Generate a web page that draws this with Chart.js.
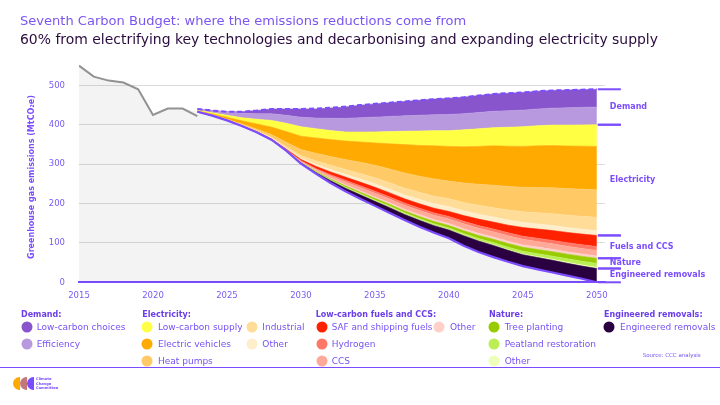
<!DOCTYPE html>
<html><head><meta charset="utf-8">
<script src="https://cdn.jsdelivr.net/npm/chart.js@4"></script>
<style>
body{margin:0;width:720px;height:405px;overflow:hidden;background:#fff;font-family:'DejaVu Sans',sans-serif;position:relative}
#c{position:absolute;left:0;top:0}
.t{position:absolute;white-space:nowrap;line-height:1;transform:translateY(-50%);color:#7652f2;font-size:9px}
.h{font-weight:bold;font-size:8px;color:#6a3ee8}
.dot{position:absolute;width:11px;height:11px;border-radius:50%;transform:translate(-50%,-50%)}
.title{position:absolute;left:20px;white-space:nowrap;line-height:1;transform:translateY(-50%)}
.logo{position:absolute;width:7px;height:13px;border-radius:7px 0 0 7px;top:377px}
.lt{position:absolute;left:36px;font-size:3.6px;font-weight:bold;color:#7b4dff;line-height:4.6px;top:377px}
</style></head><body>
<canvas id="c" width="720" height="405"></canvas>
<div class="title" style="top:21px;color:#7b55f0;font-size:13.05px">Seventh Carbon Budget: where the emissions reductions come from</div>
<div class="title" style="top:39.5px;color:#2a0b3e;font-size:13.95px">60% from electrifying key technologies and decarbonising and expanding electricity supply</div>

<div class="t h" style="left:21px;top:314.5px">Demand:</div>
<div class="dot" style="left:26.7px;top:327.3px;background:#8855cc"></div><div class="t" style="left:36.7px;top:327.3px">Low-carbon choices</div>
<div class="dot" style="left:26.7px;top:344px;background:#b899e0"></div><div class="t" style="left:36.7px;top:344px">Efficiency</div>

<div class="t h" style="left:142.3px;top:314.5px">Electricity:</div>
<div class="dot" style="left:147px;top:327.3px;background:#ffff44"></div><div class="t" style="left:158px;top:327.3px">Low-carbon supply</div>
<div class="dot" style="left:147px;top:344px;background:#ffaa00"></div><div class="t" style="left:158px;top:344px">Electric vehicles</div>
<div class="dot" style="left:147px;top:360.7px;background:#ffc966"></div><div class="t" style="left:158px;top:360.7px">Heat pumps</div>
<div class="dot" style="left:252.3px;top:327.3px;background:#ffdd99"></div><div class="t" style="left:262.3px;top:327.3px">Industrial</div>
<div class="dot" style="left:252.3px;top:344px;background:#ffeecc"></div><div class="t" style="left:262.3px;top:344px">Other</div>

<div class="t h" style="left:315.7px;top:314.5px">Low-carbon fuels and CCS:</div>
<div class="dot" style="left:321.7px;top:327.3px;background:#ff2200"></div><div class="t" style="left:331.7px;top:327.3px;font-size:8.85px">SAF and shipping fuels</div>
<div class="dot" style="left:321.7px;top:344px;background:#ff7766"></div><div class="t" style="left:331.7px;top:344px">Hydrogen</div>
<div class="dot" style="left:321.7px;top:360.7px;background:#ffaa99"></div><div class="t" style="left:331.7px;top:360.7px">CCS</div>
<div class="dot" style="left:439.3px;top:326.7px;background:#ffd0c8"></div><div class="t" style="left:450px;top:326.7px">Other</div>

<div class="t h" style="left:489px;top:314.5px">Nature:</div>
<div class="dot" style="left:494.3px;top:327.3px;background:#99cc00"></div><div class="t" style="left:504.7px;top:327.3px">Tree planting</div>
<div class="dot" style="left:494.3px;top:344px;background:#bbee55"></div><div class="t" style="left:504.7px;top:344px">Peatland restoration</div>
<div class="dot" style="left:494.3px;top:360.7px;background:#eeffbb"></div><div class="t" style="left:504.7px;top:360.7px">Other</div>

<div class="t h" style="left:604px;top:314.5px">Engineered removals:</div>
<div class="dot" style="left:609.3px;top:327.3px;background:#2a0040"></div><div class="t" style="left:620px;top:327.3px">Engineered removals</div>

<div class="t" style="left:642.7px;top:355.7px;font-size:5.5px">Source: CCC analysis</div>
<div style="position:absolute;left:0;top:367px;width:720px;height:1px;background:#7b4dff"></div>

<div class="logo" style="left:13px;background:#ffaa00"></div>
<div class="logo" style="left:20px;background:#c47878"></div>
<div class="logo" style="left:27px;background:#7b4dff"></div>
<div class="lt">Climate<br>Change<br>Committee</div>

<script>
// ---- Data ----
const histYears  = [2015, 2016, 2017, 2018, 2019, 2020, 2021, 2022, 2023];
const histValues = [550, 522, 512, 507, 490, 425, 441, 441, 422];

const years = [2023,2024,2025,2026,2027,2028,2029,2030,2031,2032,2033,2034,2035,2036,2037,2038,2039,2040,2041,2042,2043,2044,2045,2046,2047,2048,2049,2050];

const pathway  = [433,423,411,397,381,362,334,301,276,252,231,212,194,176,158,141,126,112,93,77,64,52,41,33,25,17,9,0];
const baseline = [440,436,433,433,436,440,440,440,441,443,446,450,453,456,459,462,465,467,470,474,478,480,482,485,487,488,489,490];

const engineeredRemovals = [0,0,0,0,0,0,0,2,3,6,8,10,11.5,13.4,14.3,16.6,17.8,21,25.3,28,29.7,29.1,29,29.9,30.8,31.2,32.1,35];
const natureOther        = [0,0,0,0,0,0,0,0.2,0.3,0.5,0.7,0.8,0.8,0.9,0.9,1,1,1,1.2,1.4,1.6,1.8,2,2.2,2.4,2.6,2.8,3];
const peatland           = [0,0,0,0,0,0,0,0.5,1,1.6,2.3,2.6,2.9,3.1,3.3,3.5,3.8,4,4.5,5,5.5,6.2,7,7.6,8.2,8.8,9.4,10];
const treePlanting       = [0,0,0,0,0,0,0.2,0.8,1.5,2.2,3,3.5,4,4.4,4.8,5.2,5.6,6,6.8,7.6,8.4,9.2,10,10.6,11.2,11.8,12.4,13];
const fuelsOther         = [0,0,0,0,0,0,0.3,0.6,1.2,2,2.8,3.2,3.6,4,4.2,4.5,4.8,5,5.2,5.4,5.6,5.8,6,6,6,6,6,6];
const ccs                = [0,0,0.2,0.3,0.5,0.5,1,2.2,3.8,5.5,7,8.5,9.3,9.5,10,10.5,11,12,12.5,13,13.5,14,14,14,14,14,14,14];
const hydrogen           = [0,0,0,0,0.2,0.3,0.5,1.2,2.2,3.4,4.3,4.8,5.2,5.2,5.5,5.7,6,6,6.3,6.6,7,7.5,8,8.4,8.8,9.2,9.6,10];
const safShipping        = [0,0,0.3,0.5,0.8,1.2,2.2,3.5,5.5,7,8,9,10,10.5,11,11.5,12,13,14.5,16.5,17.5,19.5,22,23.5,25,26,27,28];
const electricityOther   = [0,0.5,0.5,0.7,1,1.5,2.5,3.5,5,6,7,8,9,9.5,10,11,11.5,12,12.2,12.5,12.7,12.9,13,12.8,12.6,12.4,12.2,12];
const industrial         = [0.5,0.5,0.5,1,1.5,2.5,4,6.5,9,11,12.5,14,15,16,17,18,19,20,21,22.5,24,25.5,27,28.5,30,31.5,33,34];
const heatPumps          = [0.5,1,1.5,2.5,4,7,11,15,19,22,25,28.5,32,35,38.5,41,44,45,49.5,53.5,57,60,62,64,66,67.5,69,70];
const electricVehicles   = [1.5,2.5,5,8,13,19,27,34,39,43,47,51.5,56.5,64,72,78,84,88,92,96,100,102,104,106,107,108,109,110];
const lowCarbonSupply    = [1.5,3,5,8,12,17,21,24,23.5,23,23,25,28,31,34,36.5,38.5,40,43,44.5,46,48,50,51,52,53,54,55];
const efficiency         = [3,5,8,11,14,17,20.3,24,27,31,34.5,36.5,37.5,38.5,39,40,40.5,41,41,41.5,41.5,42,42,42.5,43,44,44.5,45];
const lowCarbonChoices   = [0,0.5,1,4,8,12,16,21,23,26,29,31.5,33.5,35,36.5,38,39.5,41,42,43,44,44.5,45,45,45,45,45,45];

const xTicks = [2015, 2020, 2025, 2030, 2035, 2040, 2045, 2050];

// ---- Build ----
const pts = (xs, vs) => xs.map((x, i) => ({x, y: vs[i]}));
const layers = [
  ['er', engineeredRemovals, '#2a0040'],
  ['natOther', natureOther, '#eeffbb'],
  ['peat', peatland, '#bbee55'],
  ['tree', treePlanting, '#99cc00'],
  ['fuelOther', fuelsOther, '#ffd0c8'],
  ['ccs', ccs, '#ffaa99'],
  ['h2', hydrogen, '#ff7766'],
  ['saf', safShipping, '#ff2200'],
  ['elecOther', electricityOther, '#ffeecc'],
  ['ind', industrial, '#ffdd99'],
  ['hp', heatPumps, '#ffc966'],
  ['ev', electricVehicles, '#ffaa00'],
  ['lcs', lowCarbonSupply, '#ffff44'],
  ['eff', efficiency, '#b899e0'],
  ['lcc', lowCarbonChoices, '#8855cc']
];
const PURPLE = '#7b4dff';
// one continuous grey background: history up to 2022, then the pathway
const shadeX = histYears.slice(0, -1).concat(years);
const shadeY = histValues.slice(0, -1).concat(pathway);
const datasets = [
  {key:'base', data: pts(years, pathway), stack:'p', borderColor: PURPLE, borderWidth: 2.2, fill:false},
];
layers.forEach(([k, arr, col]) => datasets.push({key:k, data: pts(years, arr), stack:'p',
  borderColor: col, borderWidth: 0.6, backgroundColor: col, fill: '-1'}));
datasets.push({key:'shade', data: pts(shadeX, shadeY), stack:'s', borderWidth:0, borderColor:'rgba(0,0,0,0)',
  backgroundColor: 'rgba(0,0,0,0.047)', fill:'origin', order:1});
datasets.push({key:'hist', data: pts(histYears, histValues), stack:'h', borderColor:'#929292', borderWidth:2,
  fill:false, order:-1});
datasets.push({key:'baseline', data: pts(years, baseline), stack:'d', borderColor: PURPLE, borderWidth:2,
  borderDash:[5,3], fill:false, order:-2});

const groups = [
  ['Demand', 'lcc', 'lcs'],
  ['Electricity', 'lcs', 'saf'],
  ['Fuels and CCS', 'saf', 'tree'],
  ['Nature', 'tree', 'er'],
  ['Engineered removals', 'er', 'base']
];

const bracketPlugin = {
  id: 'brackets',
  afterDatasetsDraw(chart) {
    const ctx = chart.ctx;
    const idx = k => chart.data.datasets.findIndex(d => d.key === k);
    const last = years.length - 1;
    const topOf = k => chart.getDatasetMeta(idx(k)).data[last].y;
    const xr = chart.scales.x.getPixelForValue(years[last]);
    ctx.save();
    ctx.strokeStyle = PURPLE; ctx.lineWidth = 2;
    ctx.fillStyle = PURPLE;
    ctx.font = 'bold 8px "DejaVu Sans"';
    ctx.textBaseline = 'middle';
    groups.forEach(([label, top, bottom]) => {
      const yt = topOf(top), yb = topOf(bottom);
      [yt, yb].forEach(yy => { ctx.beginPath(); ctx.moveTo(xr + 1, yy); ctx.lineTo(xr + 24, yy); ctx.stroke(); });
      ctx.fillText(label, xr + 13, (yt + yb) / 2);
    });
    // y axis title
    ctx.translate(32, 177);
    ctx.rotate(-Math.PI / 2);
    ctx.textAlign = 'center';
    ctx.font = 'bold 8px "DejaVu Sans"';
    ctx.fillText('Greenhouse gas emissions (MtCO\u2082e)', 0, 0);
    ctx.restore();
  }
};

new Chart(document.getElementById('c'), {
  type: 'line',
  data: {datasets},
  options: {
    responsive: false, animation: false,
    layout: {padding: {left: 0, right: 115, top: 61.7, bottom: 105}},
    plugins: {legend: {display: false}, tooltip: {enabled: false}},
    elements: {point: {radius: 0}, line: {tension: 0}},
    scales: {
      x: {type: 'linear', min: xTicks[0], max: 2050.55,
        afterBuildTicks: s => { s.ticks = xTicks.map(v => ({value: v})); },
        ticks: {color: '#7a5cf0', font: {family: 'DejaVu Sans', size: 8.5}, padding: 8, maxRotation: 0, callback: v => String(v)},
        grid: {display: false, drawTicks: false}, border: {display: true, color: PURPLE, width: 2},
        afterFit: s => { s.height = 17.7; }},
      y: {stacked: true, min: 0, max: 560,
        ticks: {stepSize: 100, includeBounds: false, color: '#7a5cf0', font: {family: 'DejaVu Sans', size: 8.5}, padding: 14},
        grid: {color: '#dcdcdc', drawTicks: false, lineWidth: 1},
        border: {display: false},
        afterFit: s => { s.width = 79; }}
    }
  },
  plugins: [bracketPlugin]
});
</script>
</body></html>
